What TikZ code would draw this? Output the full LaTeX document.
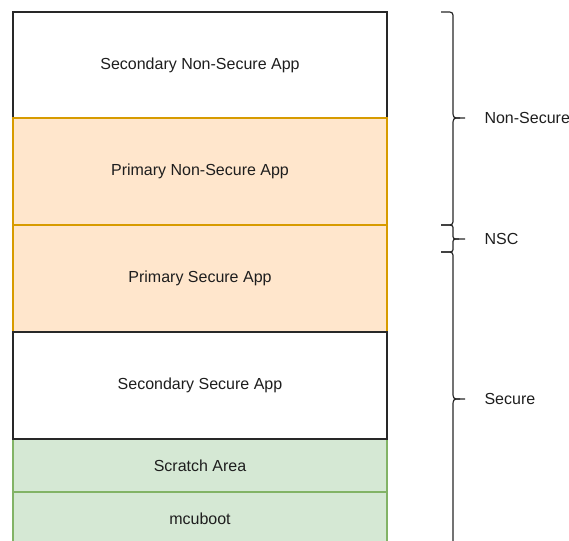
\documentclass[tikz,border=0pt]{standalone}
\usepackage{fontspec}
\setmainfont{Liberation Sans}
\definecolor{txt}{RGB}{30,30,30}
\definecolor{edge}{RGB}{40,40,40}
\definecolor{orfill}{RGB}{255,230,204}
\definecolor{orline}{RGB}{215,155,0}
\definecolor{grfill}{RGB}{213,232,212}
\definecolor{grline}{RGB}{130,179,102}
\tikzset{
  region/.style={draw=edge, fill=white, line width=1.2pt, minimum width=374pt, inner sep=0pt, outer sep=0pt, font=\fontsize{16}{19}\selectfont, text=txt},
  orange/.style={region, draw=orline, fill=orfill},
  green/.style={region, draw=grline, fill=grfill},
  bracket/.style={draw=edge, line width=1.2pt},
  side/.style={anchor=west, font=\fontsize{16}{19}\selectfont, text=txt}
}
\begin{document}
\begin{tikzpicture}[x=1pt,y=-1pt]
\useasboundingbox (0,0) rectangle (569,540);
\node[region, minimum height=106pt] (secns) at (200,65) {Secondary Non-Secure App};
\node[orange, minimum height=107pt] (prins) at (200,171.5) {Primary Non-Secure App};
\node[orange, minimum height=107pt] (pris) at (200,278.5) {Primary Secure App};
\node[green, minimum height=53pt] (scratch) at (200,465.5) {Scratch Area};
\node[green, minimum height=53pt] (mcuboot) at (200,518.5) {mcuboot};
\node[region, minimum height=107pt] (secs) at (200,385.5) {Secondary Secure App};
% brace coordinates
\coordinate (b1t) at (441,12);
\coordinate (b1m) at (465,118);
\coordinate (b1b) at (441,225);
\coordinate (b2m) at (465,239);
\coordinate (b2b) at (441,252);
\coordinate (b3m) at (465,399);
\coordinate (b3b) at (441,546);
% Non-Secure brace
\draw[bracket] (b1t) -- ++(5,0) .. controls ++(7,0) and ++(0,-7) .. ++(7,7) -- (453,110) .. controls (453,118) .. (460,118) -- (b1m);
\draw[bracket] (b1b) -- ++(5,0) .. controls ++(7,0) and ++(0,7) .. ++(7,-7) -- (453,126) .. controls (453,118) .. (460,118);
% NSC brace
\draw[bracket] (b1b) -- ++(5,0) .. controls ++(7,0) and ++(0,-5) .. ++(7,5) -- (453,234) .. controls (453,239) .. (459,239) -- (b2m);
\draw[bracket] (b2b) -- ++(5,0) .. controls ++(7,0) and ++(0,5) .. ++(7,-5) -- (453,244) .. controls (453,239) .. (459,239);
% Secure brace
\draw[bracket] (b2b) -- ++(5,0) .. controls ++(7,0) and ++(0,-7) .. ++(7,7) -- (453,391) .. controls (453,399) .. (460,399) -- (b3m);
\draw[bracket] (b3b) -- ++(5,0) .. controls ++(7,0) and ++(0,7) .. ++(7,-7) -- (453,407) .. controls (453,399) .. (460,399);
\node[side] (lns) at (481,118) {Non-Secure};
\node[side] (lnsc) at (481,239) {NSC};
\node[side] (lsec) at (481,399) {Secure};
\end{tikzpicture}
\end{document}
